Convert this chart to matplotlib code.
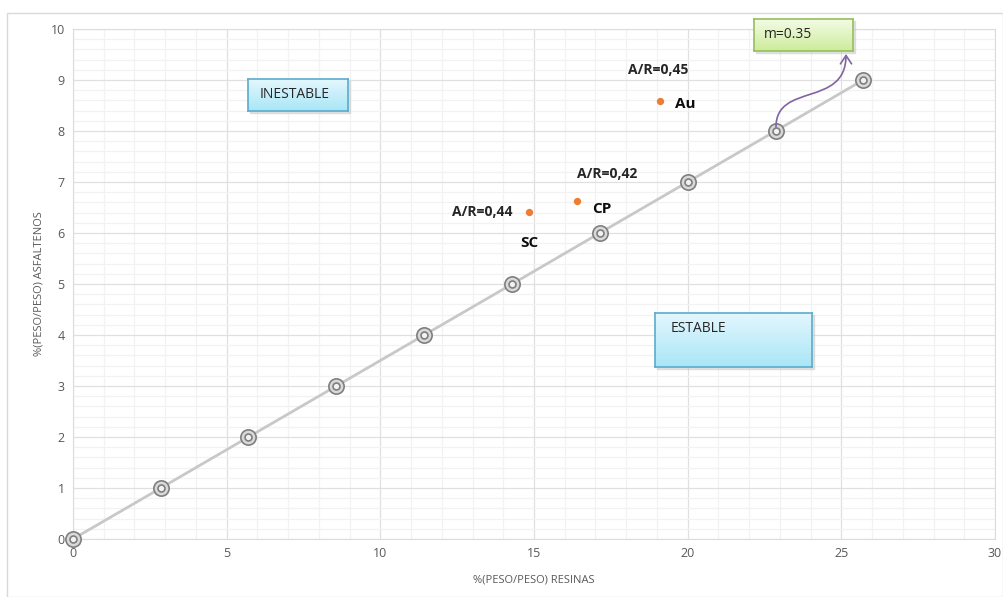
import numpy as np
import matplotlib
matplotlib.use("Agg")
import matplotlib.pyplot as plt
from matplotlib.patches import Rectangle, FancyArrowPatch
from matplotlib.path import Path
from matplotlib.ticker import MultipleLocator

plt.rcParams["font.family"] = ["Open Sans", "DejaVu Sans"]

# Stability line (slope 0.35)
resinas_line = [0, 2.86, 5.71, 8.57, 11.43, 14.29, 17.14, 20.0, 22.86, 25.71]
asfaltenos_line = [0, 1, 2, 3, 4, 5, 6, 7, 8, 9]

# Samples
samples = ["SC", "CP", "Au"]
sample_resinas = [14.84, 16.40, 19.10]
sample_asfaltenos = [6.41, 6.63, 8.59]
sample_ratio = ["A/R=0,44", "A/R=0,42", "A/R=0,45"]

W, H = 1004, 597
fig = plt.figure(figsize=(W / 100, H / 100), dpi=100)

# outer chart border
fig.patches.append(Rectangle((7 / W, 0), 1 - 8 / W, 1 - 13 / H, transform=fig.transFigure,
                             fill=False, edgecolor="#d9d9d9", linewidth=1))

ax = fig.add_axes([73 / W, 1 - 539 / H, (995 - 73) / W, (539 - 29) / H])
ax.set_xlim(0, 30)
ax.set_ylim(0, 10)
ax.xaxis.set_major_locator(MultipleLocator(5))
ax.xaxis.set_minor_locator(MultipleLocator(1))
ax.yaxis.set_major_locator(MultipleLocator(1))
ax.yaxis.set_minor_locator(MultipleLocator(0.2))
ax.grid(which="major", color="#e0e0e0", linewidth=0.9)
ax.grid(which="minor", color="#f2f2f2", linewidth=0.9)
ax.set_axisbelow(True)
for s in ax.spines.values():
    s.set_color("#dcdcdc")
ax.tick_params(which="both", length=0, labelsize=9, colors="#595959", pad=6)

ax.plot(resinas_line, asfaltenos_line, color="#c8c8c8", linewidth=2, zorder=2)
ax.plot(resinas_line, asfaltenos_line, linestyle="none", marker="o", markersize=11,
        mfc="#d9d9d9", mec="#7f7f7f", mew=1.2, zorder=3, clip_on=False)
ax.plot(resinas_line, asfaltenos_line, linestyle="none", marker="o", markersize=5,
        mfc="#f2f2f2", mec="#7f7f7f", mew=1.2, zorder=4, clip_on=False)

ax.scatter(sample_resinas, sample_asfaltenos, s=18, color="#ed7d31", zorder=5)

# label offsets in points: (ratio label, sample name)
ratio_off = [(-12, 0, "right", "center"), (0, 19, "left", "center"), (-1, 22, "center", "center")]
name_off = [(0, -22, "center", "center"), (11, -6, "left", "center"), (11, -2, "left", "center")]
for i, name in enumerate(samples):
    dx, dy, ha, va = ratio_off[i]
    ax.annotate(sample_ratio[i], (sample_resinas[i], sample_asfaltenos[i]), xytext=(dx, dy),
                textcoords="offset points", ha=ha, va=va, fontsize=10, fontweight="bold",
                color="#262626")
    dx, dy, ha, va = name_off[i]
    ax.annotate(name, (sample_resinas[i], sample_asfaltenos[i]), xytext=(dx, dy),
                textcoords="offset points", ha=ha, va=va, fontsize=11, fontweight="bold",
                color="#0d0d0d")

ax.set_xlabel("%(PESO/PESO) RESINAS", fontsize=8, color="#595959", labelpad=10)
ax.set_ylabel("%(PESO/PESO) ASFALTENOS", fontsize=8, color="#595959", labelpad=4)


def grad_box(x0, y0, x1, y1, top, bottom, edge, text, tx, ty):
    # soft drop shadow
    fig.patches.append(Rectangle(((x0 + 2) / W, 1 - (y1 + 2) / H), (x1 - x0) / W, (y1 - y0) / H,
                                 transform=fig.transFigure, color="#c8c8c8", alpha=0.5, zorder=8))
    bax = fig.add_axes([x0 / W, 1 - y1 / H, (x1 - x0) / W, (y1 - y0) / H], zorder=9)
    c0 = np.array(matplotlib.colors.to_rgb(top))
    c1 = np.array(matplotlib.colors.to_rgb(bottom))
    t = np.linspace(0, 1, 64)[:, None]
    img = (c0 * (1 - t) + c1 * t)[:, None, :]
    bax.imshow(img, aspect="auto", extent=[0, 1, 0, 1], origin="upper")
    bax.set_xlim(0, 1)
    bax.set_ylim(0, 1)
    bax.set_xticks([])
    bax.set_yticks([])
    for s in bax.spines.values():
        s.set_color(edge)
        s.set_linewidth(1.2)
    bax.text(tx, ty, text, transform=bax.transAxes, fontsize=10, color="#262626",
             ha="left", va="center")


grad_box(248, 79, 348, 111, "#e4f7fd", "#a9e6f7", "#5aaccc", "INESTABLE", 0.12, 0.5)
grad_box(655, 313, 812, 367, "#e4f7fd", "#a9e6f7", "#5aaccc", "ESTABLE", 0.1, 0.72)
grad_box(754, 19, 853, 51, "#f4fbe6", "#ccec9a", "#94c05a", "m=0.35", 0.1, 0.5)


def fpt(x, y):
    return (x / W, 1 - y / H)


# S-shaped arrow from the slope point up to the slope box
verts = [fpt(776, 127), fpt(776, 82), fpt(846, 108), fpt(846, 54)]
codes = [Path.MOVETO, Path.CURVE4, Path.CURVE4, Path.CURVE4]
arrow = FancyArrowPatch(path=Path(verts, codes), transform=fig.transFigure,
                        arrowstyle="->,head_length=6,head_width=4",
                        color="#8064a2", linewidth=1.2, zorder=10)
fig.patches.append(arrow)

fig.savefig("out.png", dpi=100)
